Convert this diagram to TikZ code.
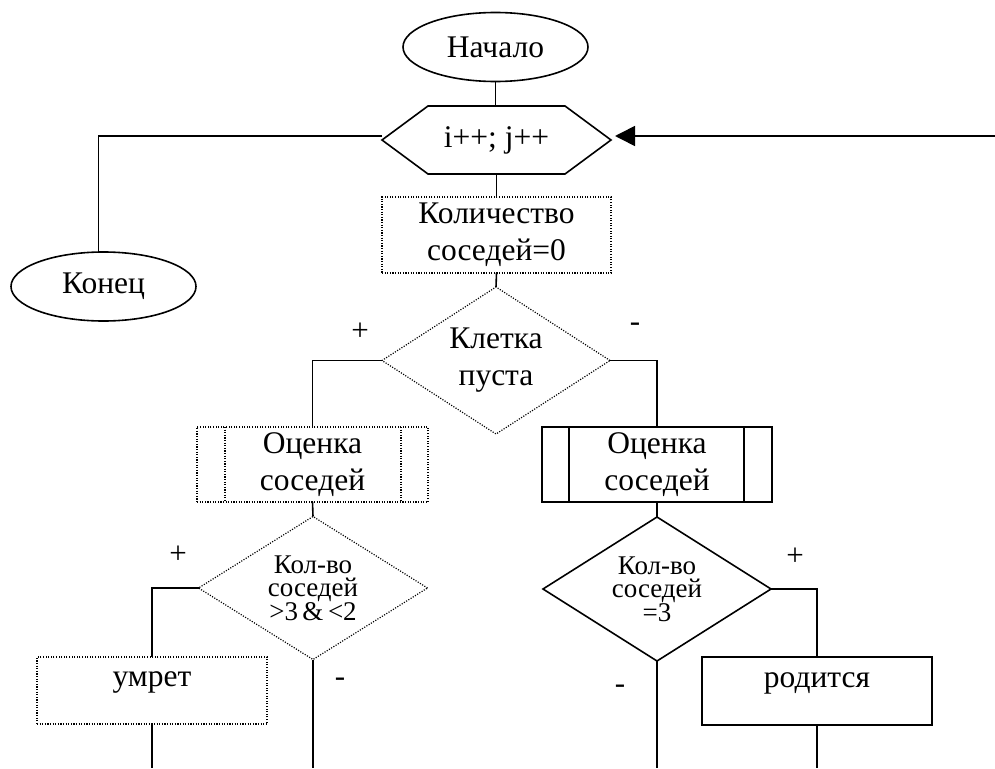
\documentclass[tikz,border=0pt]{standalone}
\usepackage{fontspec}
\setmainfont{Liberation Serif}
\usetikzlibrary{shapes.geometric,arrows.meta}

\begin{document}
\begin{tikzpicture}[x=1pt,y=-1pt,
  every node/.style={font=\fontsize{31.5}{37}\selectfont, inner sep=0pt, outer sep=0pt, align=center},
  wire/.style={line width=1.6pt},
  solidframe/.style={draw, line width=1.6pt},
  dotframe/.style={draw, line width=1.2pt, dash pattern=on 1.1pt off 1.5pt},
  term/.style={ellipse, solidframe, minimum width=185pt, minimum height=69pt},
  proc/.style={rectangle, minimum width=230pt},
  cond/.style={diamond, minimum width=228pt, minimum height=145pt, aspect=1.58},
  smalltext/.style={font=\fontsize{27}{23}\selectfont},
  branchsign/.style={font=\fontsize{31}{31}\selectfont}
]
\useasboundingbox (0,0) rectangle (995,768);

% terminators
\node[term] (start) at (495.5,47) {Начало};
\node[term] (finish) at (103.5,286.5) {Конец};

% loop header (hexagon outline drawn around the node)
\node[minimum width=229pt, minimum height=68pt] (hex) at (496.5,140) {i++; j++};
\draw[wire] (hex.west) -- ([xshift=46pt]hex.north west) -- ([xshift=-46pt]hex.north east)
  -- (hex.east) -- ([xshift=-46pt]hex.south east) -- ([xshift=46pt]hex.south west) -- cycle;

% initialisation
\node[proc, dotframe, minimum width=229pt, minimum height=76pt] (init) at (496.5,235)
  {Количество\\соседей=0};

% first decision
\node[cond, dotframe, minimum height=147pt, aspect=1.55] (empty) at (496,360.5) {Клетка\\пуста};

% neighbour evaluation subroutines
\node[proc, dotframe, minimum width=231pt, minimum height=75pt] (evalL) at (312.5,464.5) {Оценка\\соседей};
\draw[dotframe] ([xshift=28pt]evalL.north west) -- ([xshift=28pt]evalL.south west);
\draw[dotframe] ([xshift=-27pt]evalL.north east) -- ([xshift=-27pt]evalL.south east);

\node[proc, solidframe, minimum width=230pt, minimum height=75pt] (evalR) at (657,464.5) {Оценка\\соседей};
\draw[wire] ([xshift=27pt]evalR.north west) -- ([xshift=27pt]evalR.south west);
\draw[wire] ([xshift=-28pt]evalR.north east) -- ([xshift=-28pt]evalR.south east);

% second-level decisions
\node[cond, dotframe, minimum width=229pt, minimum height=143pt, aspect=1.6, smalltext] (dieq) at (313,588)
  {Кол-во\\соседей\\>3\,\&\,<2};
\node[cond, solidframe, minimum width=228pt, minimum height=144pt, aspect=1.58, smalltext] (birthq) at (657,589)
  {Кол-во\\соседей\\=3};

% outcomes
\node[proc, dotframe, minimum width=230pt, minimum height=67pt] (die) at (152,690.5)
  {\raisebox{8pt}[\height][\depth]{умрет}};
\node[proc, solidframe, minimum width=230pt, minimum height=68pt] (born) at (817,691)
  {\raisebox{8pt}[\height][\depth]{родится}};

% loose ends at the bottom and the right
\coordinate (loopin) at (995,136);
\coordinate (outA) at (152,768);
\coordinate (outB) at (313,768);
\coordinate (outC) at (657,768);
\coordinate (outD) at (817,768);

% connectors
\draw[wire] (start.south) -- (start.south |- hex.north);
\draw[wire] ([yshift=4pt]hex.west) -| ([xshift=-5pt]finish.north);
\draw[wire, -{Triangle[length=20pt,width=20pt]}] (loopin) -- ([xshift=4pt,yshift=4pt]hex.east);
\draw[wire] (hex.south) -- (init.north);
\draw[wire] (init.south) -- (empty.north);
\draw[wire] (empty.west) -| (evalL.north);
\draw[wire] (empty.east) -| (evalR.north);
\draw[wire] (evalL.south) -- (dieq.north);
\draw[wire] (evalR.south) -- (birthq.north);
\draw[wire] (dieq.west) -| (die.north);
\draw[wire] (birthq.east) -| (born.north);
\draw[wire] (die.south) -- (outA);
\draw[wire] (dieq.south) -- (outB);
\draw[wire] (birthq.south) -- (outC);
\draw[wire] (born.south) -- (outD);

% branch marks
\node[branchsign] (plusA) at (360,332) {+};
\node[branchsign] (minusA) at (635,327) {-};
\node[branchsign] (plusB) at (178,555) {+};
\node[branchsign] (minusB) at (340,682) {-};
\node[branchsign] (plusC) at (795,557) {+};
\node[branchsign] (minusC) at (620,689) {-};
\end{tikzpicture}
\end{document}
